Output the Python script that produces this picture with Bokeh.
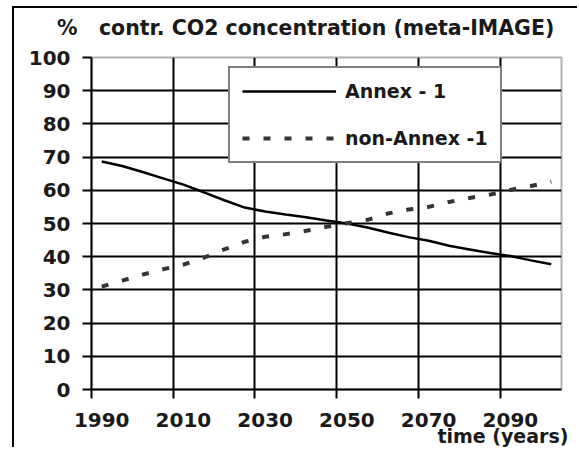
from bokeh.plotting import figure
from bokeh.models import (Range1d, LinearAxis, FixedTicker, Legend, LegendItem,
                          ColumnDataSource)
from bokeh.embed import file_html
from bokeh.resources import INLINE

# ---- data ----
years = [1990, 1995, 2000, 2005, 2010, 2015, 2020, 2025, 2030, 2035, 2040, 2045,
         2050, 2055, 2060, 2065, 2070, 2075, 2080, 2085, 2090, 2095, 2100]
annex1 = [68.7, 67.3, 65.5, 63.6, 61.7, 59.4, 57.0, 54.8, 53.6, 52.7, 51.9, 50.9,
          50.0, 48.8, 47.3, 45.9, 44.8, 43.3, 42.2, 41.1, 40.2, 38.9, 37.7]
non_annex1 = [31.0, 32.8, 34.6, 36.2, 37.6, 39.7, 42.2, 44.5, 46.0, 46.8, 47.8, 49.0,
              50.1, 51.1, 53.0, 54.2, 55.0, 56.5, 57.7, 58.7, 60.1, 61.3, 62.6]
x_labels = [1990, 2010, 2030, 2050, 2070, 2090]
y_ticks = [0, 10, 20, 30, 40, 50, 60, 70, 80, 90, 100]
title_text = "contr. CO2 concentration (meta-IMAGE)"
title_pos = 2039.9
y_unit = "%"
x_title = "time (years)"
x_title_pos = 2092.6
series_names = ["Annex - 1", "non-Annex -1"]

# category width (5-year steps); gridlines sit on category boundaries
half = (years[1] - years[0]) / 2.0
boundaries = [y - half for y in x_labels]

FONT = "DejaVu Sans"
TXT = "#1a1a1a"

src = ColumnDataSource(dict(year=years, a=annex1, n=non_annex1))

p = figure(width=565, height=441,
           x_range=Range1d(years[0] - half, years[-1] + half),
           y_range=Range1d(0, 100),
           output_backend="svg", toolbar_location=None,
           min_border_left=77, min_border_right=18,
           min_border_top=49, min_border_bottom=0)
# outer frame of the original figure (left and top edges visible)
p.styles = {"border-left": "2px solid black", "border-top": "2px solid black",
            "margin-left": "12px", "margin-top": "6px"}
p.outline_line_color = "#b0b0b0"
p.outline_line_width = 2
p.background_fill_color = "white"
p.border_fill_color = "white"
p.title.text = ""

xtick = p.below[0]   # default x axis: tick marks on category boundaries
yax = p.left[0]      # default y axis

# heading line above the plot: "%" unit followed by the chart title
head = LinearAxis(ticker=FixedTicker(ticks=[title_pos]))
head.major_label_overrides = {title_pos: y_unit + "\u00a0\u00a0\u00a0" + title_text}
head.axis_line_color = None
head.major_tick_line_color = None
head.minor_tick_line_color = None
head.major_tick_out = 0
head.major_tick_in = 0
head.major_label_standoff = 18
head.major_label_text_font = FONT
head.major_label_text_font_size = "20.5px"
head.major_label_text_font_style = "bold"
head.major_label_text_color = TXT
p.add_layout(head, "above")

# grids
p.xgrid.ticker = FixedTicker(ticks=boundaries)
p.ygrid.ticker = FixedTicker(ticks=y_ticks[:-1])
for g in (p.xgrid[0], p.ygrid[0]):
    g.grid_line_color = "black"
    g.grid_line_width = 2
    g.grid_line_alpha = 1.0

# y axis
yax.ticker = FixedTicker(ticks=y_ticks)
yax.axis_line_color = "black"
yax.axis_line_width = 2
yax.major_tick_line_color = "black"
yax.major_tick_line_width = 2
yax.major_tick_out = 9
yax.major_tick_in = 0
yax.minor_tick_line_color = None
yax.major_label_standoff = 12
yax.major_label_text_font = FONT
yax.major_label_text_font_size = "20px"
yax.major_label_text_font_style = "bold"
yax.major_label_text_color = TXT

# x axis 1: tick marks on category boundaries (no labels)
xtick.ticker = FixedTicker(ticks=boundaries)
xtick.axis_line_color = "black"
xtick.axis_line_width = 2
xtick.major_tick_line_color = "black"
xtick.major_tick_line_width = 2
xtick.major_tick_out = 9
xtick.major_tick_in = 0
xtick.minor_tick_line_color = None
xtick.major_label_text_font_size = "0px"
xtick.major_label_text_color = None
xtick.major_label_standoff = 0

# x axis 2: labels at category centres
xlab = LinearAxis(ticker=FixedTicker(ticks=x_labels))
xlab.axis_line_color = None
xlab.major_tick_line_color = None
xlab.minor_tick_line_color = None
xlab.major_tick_out = 0
xlab.major_tick_in = 0
xlab.major_label_standoff = 14
xlab.major_label_text_font = FONT
xlab.major_label_text_font_size = "20px"
xlab.major_label_text_font_style = "bold"
xlab.major_label_text_color = TXT
p.add_layout(xlab, "below")

# x axis 3: axis title at the lower right
xt = LinearAxis(ticker=FixedTicker(ticks=[x_title_pos]))
xt.major_label_overrides = {x_title_pos: x_title}
xt.axis_line_color = None
xt.major_tick_line_color = None
xt.minor_tick_line_color = None
xt.major_tick_out = 0
xt.major_tick_in = 0
xt.major_label_standoff = -5
xt.major_label_text_font = FONT
xt.major_label_text_font_size = "19px"
xt.major_label_text_font_style = "bold"
xt.major_label_text_color = TXT
p.add_layout(xt, "below")

# series
r1 = p.line("year", "a", source=src, line_color="black", line_width=2.5)
r2 = p.line("year", "n", source=src, line_color="#333333", line_width=4,
            line_dash="7 14")

legend = Legend(items=[LegendItem(label=series_names[0], renderers=[r1]),
                       LegendItem(label=series_names[1], renderers=[r2])],
                location=(137, 226))
legend.border_line_color = "black"
legend.border_line_width = 2
legend.background_fill_color = "white"
legend.background_fill_alpha = 1.0
legend.padding = 12
legend.margin = 0
legend.spacing = 25
legend.glyph_width = 94
legend.glyph_height = 20
legend.label_standoff = 9
legend.label_text_font = FONT
legend.label_text_font_size = "19px"
legend.label_text_font_style = "bold"
legend.label_text_color = TXT
p.add_layout(legend, "center")

open("out.html", "w").write(file_html(p, INLINE))
